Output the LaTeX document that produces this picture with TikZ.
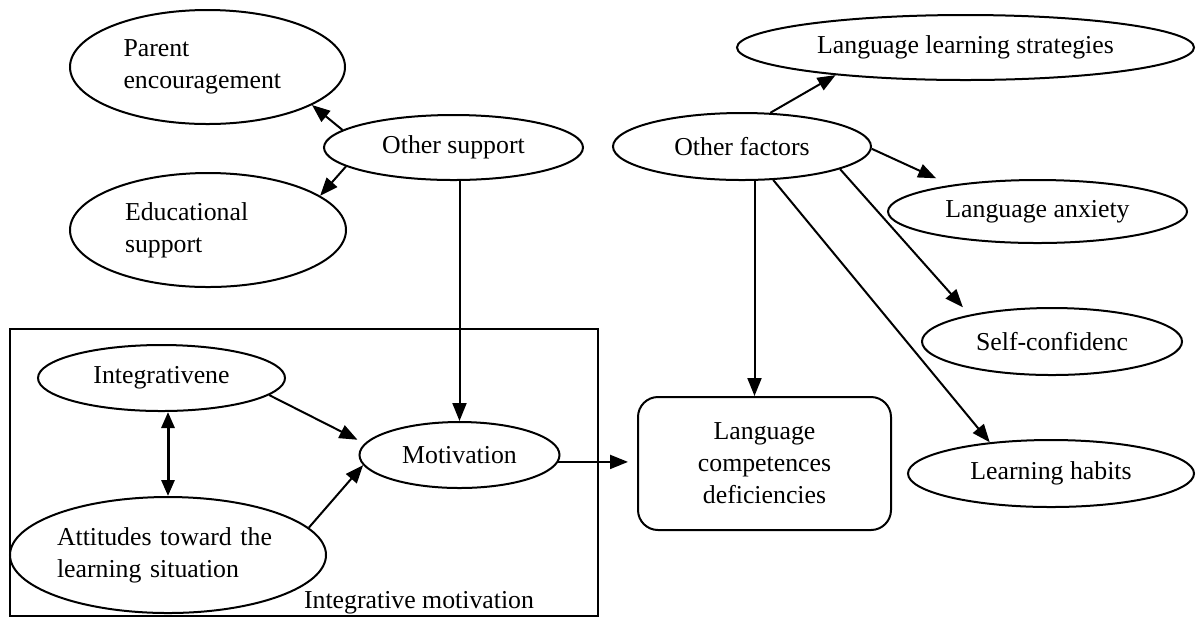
\documentclass[tikz,border=0pt]{standalone}
\usepackage{fontspec}
\setmainfont{Liberation Serif}
\usetikzlibrary{arrows.meta,shapes.geometric}
\begin{document}
\begin{tikzpicture}[x=0.5pt,y=-0.5pt,
  every node/.style={font=\fontsize{12.9}{16}\selectfont, inner sep=0pt},
  oval/.style={draw, ellipse, line width=1pt},
  arr/.style={draw, line width=1pt, -{Triangle[length=9pt,width=7pt]}},
  darr/.style={draw, line width=1.5pt, {Triangle[length=8pt,width=6.5pt]}-{Triangle[length=8pt,width=6.5pt]}},
]
\useasboundingbox (0,0) rectangle (1197,618);

% support factors (upper left)
\node[oval, minimum width=137.5pt, minimum height=57pt, text width=84pt, align=left] (pe) at (207.5,67) {Parent\\encouragement};
\node[oval, minimum width=129.5pt, minimum height=32.5pt] (os) at (453.5,147.5) {Other support};
\node[oval, minimum width=138pt, minimum height=57pt, text width=83pt, align=left] (es) at (208,230) {Educational\\support};

% other factors (right)
\node[oval, minimum width=129pt, minimum height=33.5pt] (of) at (742,146.5) {Other factors\hspace{10pt}};
\node[oval, minimum width=228.5pt, minimum height=32.5pt] (lls) at (965.5,47.5) {Language learning strategies};
\node[oval, minimum width=149.5pt, minimum height=31.5pt] (la) at (1037.5,211.5) {Language anxiety};
\node[oval, minimum width=130pt, minimum height=33.5pt] (sc) at (1052,341.5) {Self-confidenc};
\node[oval, minimum width=143pt, minimum height=33.5pt] (lh) at (1051,473.5) {Learning habits\hspace{7pt}};

% integrative motivation group
\node[draw, line width=1pt, minimum width=294pt, minimum height=143.5pt] (frame) at (304,472.5) {};
\node[oval, minimum width=123.5pt, minimum height=33pt] (int) at (161.5,378) {Integrativene};
\node[oval, minimum width=158pt, minimum height=58pt, text width=111pt, align=left] (att) at (168,555) {Attitudes toward the\\learning situation};
\node[oval, minimum width=100pt, minimum height=33pt] (mot) at (459.5,455) {Motivation};
\node (imlbl) at (419,603) {Integrative motivation};

% outcome
\node[draw, rounded corners=10pt, line width=1pt, minimum width=126.5pt, minimum height=66.5pt, align=center] (lcd) at (764.5,463.5) {Language\\competences\\deficiencies};

% connectors
\draw[arr] (os.171) -- (pe.-20);
\draw[arr] (os.190) -- (es.17);
\draw[arr] (mot.north |- os.south) -- (mot.north);
\draw[arr] (of.50) -- (lls.192.5);
\draw[arr, shorten >=8pt] (of.-1) -- (la.163);
\draw[arr, shorten >=5pt] (of.-13) -- (sc.162);
\draw[arr] (of.-47) -- (lh.153);
\draw[arr] (of.-70) -- (of.-70 |- lcd.north);
\draw[arr, shorten >=4pt] (int.-9) -- (mot.173);
\draw[arr] (att.11.5) -- (mot.186);
\draw[darr] (att.north |- int.south) -- (att.north);
\draw[arr, shorten >=4.5pt] (mot.-4) -- (mot.-4 -| lcd.west);
\end{tikzpicture}
\end{document}
